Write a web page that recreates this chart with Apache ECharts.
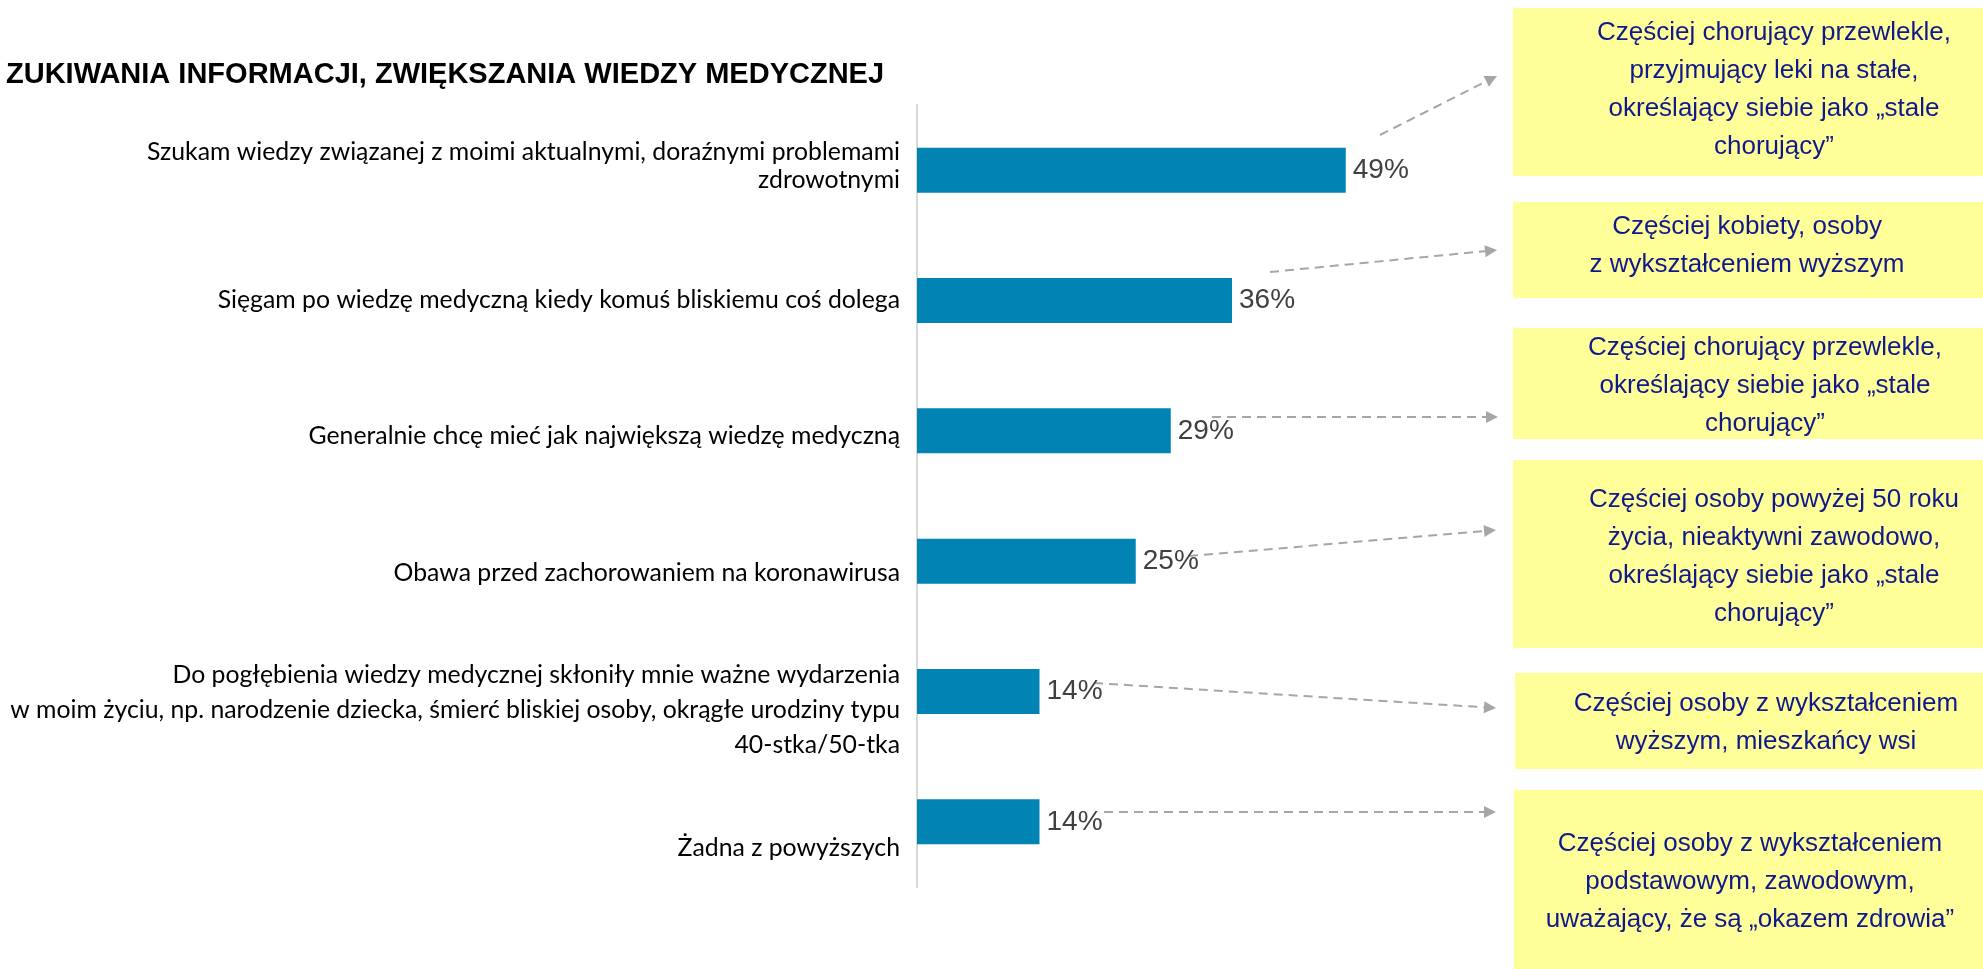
<!DOCTYPE html>
<html>
<head>
<meta charset="utf-8">
<script src="https://cdn.jsdelivr.net/npm/echarts@6/dist/echarts.min.js"></script>
<style>
  html, body { margin: 0; padding: 0; background: #fff; }
  #chart { width: 1983px; height: 969px; }
</style>
</head>
<body>
<div id="chart"></div>
<script>
// dane
const title = 'ZUKIWANIA INFORMACJI, ZWIĘKSZANIA WIEDZY MEDYCZNEJ'
const categories = [
  'Szukam wiedzy związanej z moimi aktualnymi, doraźnymi problemami\nzdrowotnymi',
  'Sięgam po wiedzę medyczną kiedy komuś bliskiemu coś dolega',
  'Generalnie chcę mieć jak największą wiedzę medyczną',
  'Obawa przed zachorowaniem na koronawirusa',
  'Do pogłębienia wiedzy medycznej skłoniły mnie ważne wydarzenia\nw moim życiu, np. narodzenie dziecka, śmierć bliskiej osoby, okrągłe urodziny typu\n40-stka/50-tka',
  'Żadna z powyższych'
]
const values = [49, 36, 29, 25, 14, 14]
const notes = [
  'Częściej chorujący przewlekle,\nprzyjmujący leki na stałe,\nokreślający siebie jako „stale\nchorujący”',
  'Częściej kobiety, osoby\nz wykształceniem wyższym',
  'Częściej chorujący przewlekle,\nokreślający siebie jako „stale\nchorujący”',
  'Częściej osoby powyżej 50 roku\nżycia, nieaktywni zawodowo,\nokreślający siebie jako „stale\nchorujący”',
  'Częściej osoby z wykształceniem\nwyższym, mieszkańcy wsi',
  'Częściej osoby z wykształceniem\npodstawowym, zawodowym,\nuważający, że są „okazem zdrowia”'
]

// uklad (pozycje w px)
const labelShift = [-4, 0, 5, 12, 19, 26]
const labelLineHeight = [28, 35, 35, 35, 35, 35]
// [x, y, w, h, srodek tekstu x, srodek tekstu y]
const noteBoxes = [
  [1513, 8, 470, 168, 1774, 90],
  [1513, 202, 470, 96, 1747, 246],
  [1513, 328, 470, 111, 1765, 386],
  [1513, 460, 470, 188, 1774, 557],
  [1515, 673, 468, 96, 1766, 723],
  [1514, 790, 469, 179, 1750, 882]
]
const arrows = [
  [1380, 135, 1497, 76],
  [1270, 272, 1497, 250],
  [1212, 417, 1498, 417],
  [1189, 556, 1496, 530],
  [1094, 683, 1496, 708],
  [1104, 812, 1496, 812]
]

const chart = echarts.init(document.getElementById('chart'))

// style etykiet kategorii: tekst + pusty odstep przesuwajacy etykiete
const rich = {}
categories.forEach((c, i) => {
  rich['t' + i] = {
    fontFamily: 'Lato, sans-serif',
    fontSize: 24.8,
    color: '#000',
    lineHeight: labelLineHeight[i]
  }
  rich['g' + i] = {
    fontSize: 1,
    lineHeight: Math.max(1, 2 * Math.abs(labelShift[i]))
  }
})

const labelFormatter = (value, i) => {
  const lines = value.split('\n').map(l => '{t' + i + '|' + l + '}').join('\n')
  const gap = '{g' + i + '| }'
  if (labelShift[i] > 0) return gap + '\n' + lines
  if (labelShift[i] < 0) return lines + '\n' + gap
  return lines
}

const graphics = []
noteBoxes.forEach((b, i) => {
  graphics.push({
    type: 'rect',
    shape: { x: b[0], y: b[1], width: b[2], height: b[3] },
    style: { fill: '#ffff99' },
    silent: true
  })
  graphics.push({
    type: 'text',
    x: b[4],
    y: b[5],
    style: {
      text: notes[i],
      fill: '#10198a',
      font: '26px "Liberation Sans", Arial, sans-serif',
      lineHeight: 38,
      align: 'center',
      verticalAlign: 'middle'
    },
    silent: true
  })
})
arrows.forEach(a => {
  const ang = Math.atan2(a[3] - a[1], a[2] - a[0])
  const len = 12, hw = 6
  const bx = a[2] - len * Math.cos(ang), by = a[3] - len * Math.sin(ang)
  graphics.push({
    type: 'line',
    shape: { x1: a[0], y1: a[1], x2: bx, y2: by },
    style: { stroke: '#a6a6a6', lineWidth: 2, lineDash: [9, 6] },
    silent: true
  })
  graphics.push({
    type: 'polygon',
    shape: {
      points: [
        [a[2], a[3]],
        [bx - hw * Math.sin(ang), by + hw * Math.cos(ang)],
        [bx + hw * Math.sin(ang), by - hw * Math.cos(ang)]
      ]
    },
    style: { fill: '#a6a6a6' },
    silent: true
  })
})

const option = {
  animation: false,
  title: {
    text: title,
    left: 1,
    top: 55,
    textStyle: {
      fontFamily: '"Liberation Sans", Arial, sans-serif',
      fontWeight: 'bold',
      fontSize: 29,
      color: '#000'
    }
  },
  grid: {
    left: 917,
    top: 105,
    bottom: 82,
    width: 875
  },
  xAxis: {
    type: 'value',
    min: 0,
    max: 100,
    show: false
  },
  yAxis: {
    type: 'category',
    inverse: true,
    data: categories,
    axisLine: { show: true, lineStyle: { color: '#d9d9d9', width: 2 } },
    axisTick: { show: false },
    axisLabel: {
      margin: 17,
      fontFamily: 'Lato, sans-serif',
      fontSize: 24.8,
      color: '#000',
      formatter: labelFormatter,
      rich: rich
    }
  },
  series: [
    {
      type: 'bar',
      data: values,
      barWidth: 45,
      itemStyle: { color: '#0183b4' },
      label: {
        show: true,
        position: 'right',
        distance: 7,
        formatter: '{c}%',
        fontFamily: '"Liberation Sans", Arial, sans-serif',
        fontSize: 28,
        color: '#404040'
      }
    }
  ],
  graphic: graphics
}

option && chart.setOption(option)
</script>
</body>
</html>
